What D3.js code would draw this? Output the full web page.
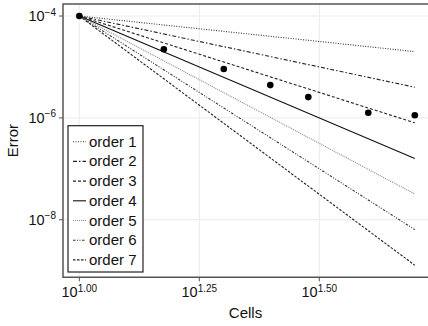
<!DOCTYPE html>
<html>
<head>
<meta charset="utf-8">
<script src="https://cdn.jsdelivr.net/npm/d3@7"></script>
<style>
  html, body { margin: 0; padding: 0; background: #fff; }
  svg { display: block; font-family: "Liberation Sans", Arial, sans-serif; }
</style>
</head>
<body>
<svg id="chart" width="428" height="326"></svg>
<script>
// ---- data ----
const cells = [10, 15, 20, 25, 30, 40, 50];
const errors = [1e-4, 2.22e-5, 9.1e-6, 4.4e-6, 2.56e-6, 1.26e-6, 1.13e-6];
const orderNames = ["order 1", "order 2", "order 3", "order 4", "order 5", "order 6", "order 7"];
const orderStartX = 10, orderEndX = 50;
const orderStartY = 1e-4;
const orderEndY = [2e-5, 4e-6, 8e-7, 1.6e-7, 3.2e-8, 6.4e-9, 1.28e-9];
const xTickExps = ["1.00", "1.25", "1.50"];
const yTickExps = ["−4", "−6", "−8"];
const xTickVals = [10, Math.pow(10, 1.25), Math.pow(10, 1.5)];
const yTickVals = [1e-4, 1e-6, 1e-8];

// ---- styles ----
const dashes = ["1,1.5", "4,2,1.5,2", "3,2", null, "1,1", "2.5,1.5,1,1.5,1,1.5", "2.5,1.5"];
const colors = ["#333", "#222", "#222", "#111", "#888", "#333", "#222"];

const svg = d3.select("#chart");
const L = 63, R = 428, T = 4, B = 277.3;

const x = d3.scaleLog().domain([Math.pow(10, 0.966), Math.pow(10, 1.7265)]).range([L, R]);
const y = d3.scaleLog().domain([Math.pow(10, -3.764), Math.pow(10, -9.13)]).range([T, B]);

// grid
svg.append("g").selectAll("line").data(xTickVals).join("line")
  .attr("x1", d => x(d)).attr("x2", d => x(d)).attr("y1", T).attr("y2", B)
  .attr("stroke", "#ebebeb").attr("stroke-width", 1);
svg.append("g").selectAll("line").data(yTickVals).join("line")
  .attr("y1", d => y(d)).attr("y2", d => y(d)).attr("x1", L).attr("x2", R)
  .attr("stroke", "#ebebeb").attr("stroke-width", 1);

// order lines
const lineGen = d3.line().x(d => x(d[0])).y(d => y(d[1]));
const g = svg.append("g");
orderEndY.forEach((ey, i) => {
  g.append("path")
    .attr("d", lineGen([[orderStartX, orderStartY], [orderEndX, ey]]))
    .attr("fill", "none")
    .attr("stroke", colors[i])
    .attr("stroke-width", 1.1)
    .attr("stroke-dasharray", dashes[i]);
});

// points
svg.append("g").selectAll("circle").data(cells).join("circle")
  .attr("cx", d => x(d)).attr("cy", (d, i) => y(errors[i]))
  .attr("r", 3.3).attr("fill", "#000");

// frame
svg.append("path")
  .attr("d", `M${R + 2},${T} H${L} V${B} H${R + 2}`)
  .attr("fill", "none").attr("stroke", "#555").attr("stroke-width", 1.5);

// x ticks
const xt = svg.append("g");
xTickVals.forEach((v, i) => {
  xt.append("line").attr("x1", x(v)).attr("x2", x(v)).attr("y1", B).attr("y2", B + 4)
    .attr("stroke", "#555").attr("stroke-width", 1);
  const t = xt.append("text").attr("x", x(v)).attr("y", B + 20)
    .attr("text-anchor", "middle").attr("font-size", 14.5).attr("fill", "#111");
  t.append("tspan").text("10");
  t.append("tspan").attr("font-size", 10).attr("dy", -5.5).text(xTickExps[i]);
});

// y ticks
const yt = svg.append("g");
yTickVals.forEach((v, i) => {
  yt.append("line").attr("x1", L - 4).attr("x2", L).attr("y1", y(v)).attr("y2", y(v))
    .attr("stroke", "#555").attr("stroke-width", 1);
  const t = yt.append("text").attr("x", L - 7).attr("y", y(v) + 5)
    .attr("text-anchor", "end").attr("font-size", 14.5).attr("fill", "#111");
  t.append("tspan").text("10");
  t.append("tspan").attr("font-size", 10).attr("dy", -5.5).text(yTickExps[i]);
});

// axis labels
svg.append("text").attr("x", (L + R) / 2).attr("y", 318)
  .attr("text-anchor", "middle").attr("font-size", 15).attr("fill", "#111").text("Cells");
svg.append("text").attr("transform", `translate(18,${(T + B) / 2}) rotate(-90)`)
  .attr("text-anchor", "middle").attr("font-size", 15).attr("fill", "#111").text("Error");

// legend
const lg = svg.append("g");
lg.append("rect").attr("x", 68).attr("y", 125.7).attr("width", 75).attr("height", 146.3)
  .attr("fill", "#fff").attr("stroke", "#222").attr("stroke-width", 1.2);
orderNames.forEach((name, i) => {
  const cy = 141.7 + i * 19.7;
  lg.append("line").attr("x1", 73).attr("x2", 86).attr("y1", cy).attr("y2", cy)
    .attr("stroke", colors[i]).attr("stroke-width", 1.1).attr("stroke-dasharray", dashes[i]);
  lg.append("text").attr("x", 89).attr("y", cy + 5).attr("font-size", 15).attr("fill", "#111").text(name);
});
</script>
</body>
</html>
